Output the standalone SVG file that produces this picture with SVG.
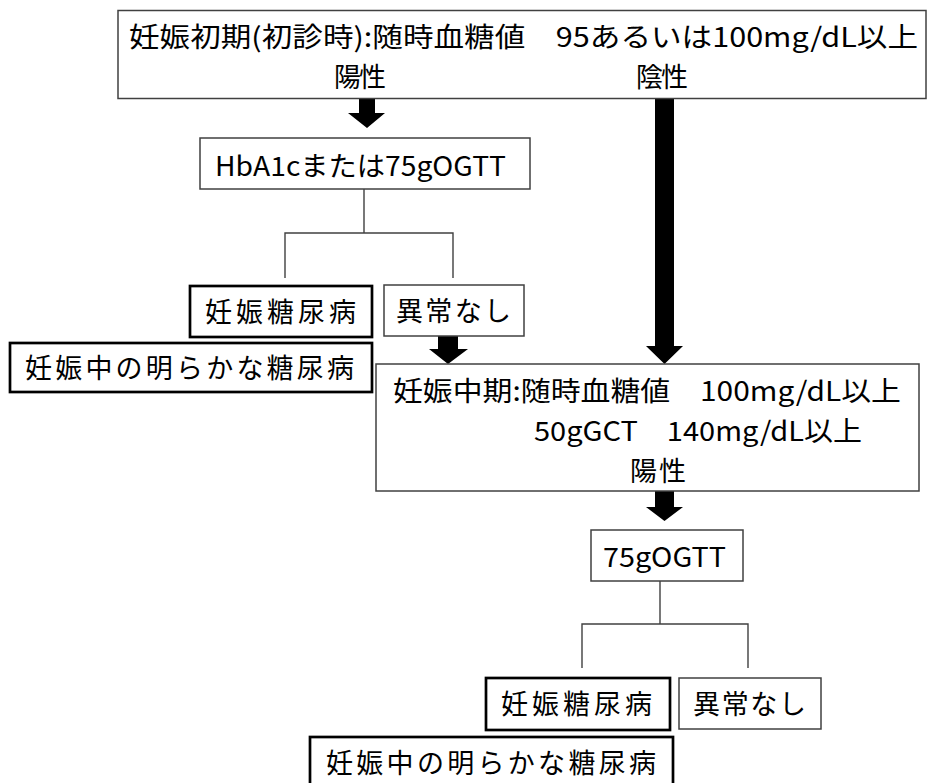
<svg xmlns="http://www.w3.org/2000/svg" width="929" height="783" viewBox="0 0 929 783">
<style>
text{font-family:"Noto Sans CJK JP","Noto Sans",sans-serif;font-size:27px;fill:#000;}
.box{fill:#fff;stroke:#404040;stroke-width:1.5;}
.thick{fill:#fff;stroke:#000;stroke-width:2.7;}
.ln{fill:none;stroke:#404040;stroke-width:1.4;}
.arr{fill:#000;stroke:none;}
</style>
<rect width="929" height="783" fill="#fff"/>
<g id="connectors">
<path class="ln" d="M364,189 V233 M285,278 V233 H453 V278"/>
<path class="ln" d="M660,581 V624 M582,668 V624 H748 V668"/>
<polygon class="arr" points="359,99 375,99 375,113 385,113 367,128 348,113 359,113"/>
<polygon class="arr" points="655,99 674,99 674,346 683,346 664.5,364 646,346 655,346"/>
<polygon class="arr" points="438,336 458,336 458,349 468,349 448,364 429,349 438,349"/>
<polygon class="arr" points="655,491 674,491 674,507 683,507 664.5,521 646,507 655,507"/>
</g>
<g id="n-early">
<rect class="box" x="118" y="10.5" width="808" height="88"/>
<text x="129" y="46.5" textLength="789" lengthAdjust="spacingAndGlyphs">妊娠初期(初診時):随時血糖値　95あるいは100mg/dL以上</text>
<text x="334" y="86.5" textLength="52" lengthAdjust="spacing">陽性</text>
<text x="636" y="86.5" textLength="52" lengthAdjust="spacing">陰性</text>
</g>
<g id="n-hba1c">
<rect class="box" x="200" y="138" width="330" height="51"/>
<text x="215" y="176" textLength="291" lengthAdjust="spacingAndGlyphs">HbA1cまたは75gOGTT</text>
</g>
<g id="n-gdm1">
<rect class="thick" x="190" y="286" width="182" height="51"/>
<text x="205" y="322" textLength="151" lengthAdjust="spacing">妊娠糖尿病</text>
</g>
<g id="n-normal1">
<rect class="box" x="384" y="285" width="140" height="51"/>
<text x="396" y="321" textLength="115" lengthAdjust="spacing">異常なし</text>
</g>
<g id="n-overt1">
<rect class="thick" x="10" y="343" width="362" height="49"/>
<text x="25" y="378" textLength="329" lengthAdjust="spacing">妊娠中の明らかな糖尿病</text>
</g>
<g id="n-mid">
<rect class="box" x="376" y="364" width="543" height="127"/>
<text x="393" y="400.5" textLength="508" lengthAdjust="spacingAndGlyphs">妊娠中期:随時血糖値　100mg/dL以上</text>
<text x="534" y="440.5" textLength="328" lengthAdjust="spacingAndGlyphs">50gGCT　140mg/dL以上</text>
<text x="630" y="480.5" textLength="56" lengthAdjust="spacing">陽性</text>
</g>
<g id="n-ogtt">
<rect class="box" x="591" y="530" width="152" height="51"/>
<text x="603" y="567" textLength="123" lengthAdjust="spacingAndGlyphs">75gOGTT</text>
</g>
<g id="n-gdm2">
<rect class="thick" x="486" y="678" width="184" height="52"/>
<text x="501" y="714" textLength="151" lengthAdjust="spacing">妊娠糖尿病</text>
</g>
<g id="n-normal2">
<rect class="box" x="679" y="678" width="142" height="51"/>
<text x="693" y="714" textLength="113" lengthAdjust="spacing">異常なし</text>
</g>
<g id="n-overt2">
<rect class="thick" x="310" y="737" width="363" height="52"/>
<text x="326" y="773" textLength="330" lengthAdjust="spacing">妊娠中の明らかな糖尿病</text>
</g>
</svg>
